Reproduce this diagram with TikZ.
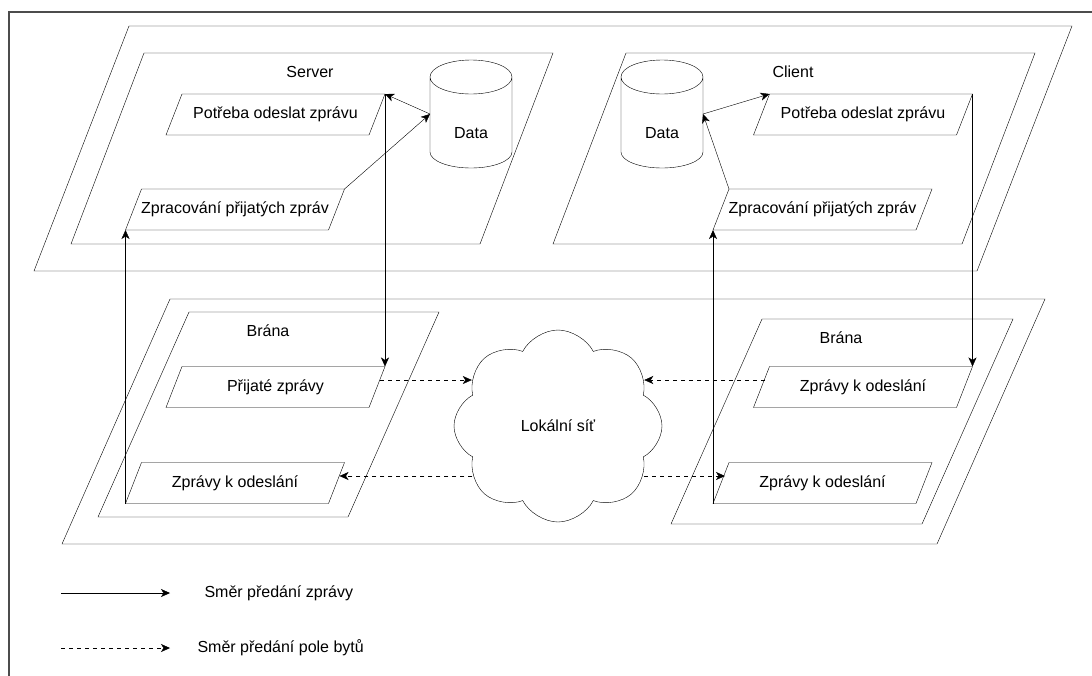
\documentclass[tikz,border=0pt]{standalone}
\usepackage{fontspec}
\setmainfont{Liberation Sans}
\usetikzlibrary{positioning, arrows.meta, shapes.symbols}

\begin{document}
\begin{tikzpicture}[
    x=1pt, y=-1pt,
    every node/.style={font=\fontsize{16}{19}\selectfont},
    para/.style={rectangle, inner sep=0pt, outer sep=0pt,
        append after command={\pgfextra{\draw ([xshift=#1]\tikzlastnode.north west) -- (\tikzlastnode.north east) -- ([xshift=-#1]\tikzlastnode.south east) -- (\tikzlastnode.south west) -- cycle;}}},
    box/.style={para=16pt, minimum width=219pt, minimum height=41pt},
    db/.style={rectangle, inner sep=0pt, outer sep=0pt, minimum width=82pt, minimum height=108pt, text height=48pt, text depth=0pt,
        append after command={\pgfextra{\draw ([yshift=-17pt]\tikzlastnode.north west) -- ([yshift=16pt]\tikzlastnode.south west) arc[start angle=180, end angle=360, x radius=41pt, y radius=16pt] -- ([yshift=-17pt]\tikzlastnode.north east) arc[start angle=0, end angle=180, x radius=41pt, y radius=17pt] arc[start angle=180, end angle=360, x radius=41pt, y radius=17pt];}}},
    cloudbox/.style={cloud, draw, cloud puffs=8, cloud puff arc=125, aspect=1.1, minimum width=208pt, minimum height=192pt, inner sep=0pt, outer sep=0pt},
    msg/.style={-{Stealth[length=9pt, width=8pt, inset=2.5pt]}},
    bytes/.style={msg, dash pattern=on 4pt off 4pt},
    frame/.style={draw=black!70, line width=1.6pt}
]

\useasboundingbox (0,0) rectangle (1092,675);

% outer frame (cut off at the page edge)
\draw[frame] (9,12) rectangle (1150,730);

% layers
\node[para=95pt, minimum width=1038pt, minimum height=245pt] (hostLayer) at (553,148.5) {};
\node[para=108pt, minimum width=983pt, minimum height=245pt] (netLayer) at (553.5,421.5) {};

% server and client
\node[para=73pt, minimum width=482pt, minimum height=191pt] (server) at (312,148.5) {};
\node[para=73pt, minimum width=482pt, minimum height=191pt] (client) at (794,148.5) {};
\node (serverLbl) at (310,72) {Server};
\node (clientLbl) at (793,72) {Client};

% gateways
\node[para=91pt, minimum width=341pt, minimum height=205pt] (gateL) at (268.5,414.5) {};
\node[para=91pt, minimum width=342pt, minimum height=205pt] (gateR) at (842,421.5) {};
\node (gateLLbl) at (268,331) {Brána};
\node (gateRLbl) at (841,338) {Brána};

% message boxes
\node[box] (potS) at (275.5,114.5) {Potřeba odeslat zprávu};
\node[box] (zprS) at (235,209.5) {Zpracování přijatých zpráv};
\node[box] (prijS) at (275.5,387) {Přijaté zprávy};
\node[box] (odesL) at (235,483) {Zprávy k odeslání};
\node[box] (potC) at (863,114.5) {Potřeba odeslat zprávu};
\node[box] (zprC) at (822.5,209.5) {Zpracování přijatých zpráv};
\node[box] (odesR) at (863,387) {Zprávy k odeslání};
\node[box] (odesR2) at (822.5,483) {Zprávy k odeslání};

% databases
\foreach \nm/\x in {dataS/471, dataC/662} {
    \node[db] (\nm) at (\x,114) {Data};
}

% network
\node[cloudbox] (lan) at (558,426) {Lokální síť};

% messages, server side
\draw[msg] (dataS.west) -- (potS.north east);
\draw[msg] (zprS.north east) -- (dataS.west);
\draw[msg] (potS.north east) -- (prijS.north east);
\draw[msg] (odesL.south west) -- (zprS.south west);

% messages, client side
\draw[msg] (dataC.east) -- ([xshift=16pt]potC.north west);
\draw[msg] ([xshift=16pt]zprC.north west) -- (dataC.east);
\draw[msg] (potC.north east) -- (odesR.north east);
\draw[msg] (odesR2.south west) -- (zprC.south west);

% byte arrays through the network
\draw[bytes] ([xshift=-5pt, yshift=7pt]prijS.east) -- ([yshift=7pt]prijS.east -| lan.154);
\draw[bytes] ([xshift=11pt, yshift=7pt]odesR.west) -- ([yshift=7pt]odesR.west -| lan.26);
\draw[bytes] ([yshift=7pt]odesL.east -| lan.209) -- ([xshift=-5pt, yshift=7pt]odesL.east);
\draw[bytes] ([yshift=7pt]odesR2.west -| lan.333) -- ([xshift=12pt, yshift=7pt]odesR2.west);

% legend
\coordinate (msgA) at (61,593);
\coordinate (msgB) at (170,593);
\coordinate (bytesA) at (61,648);
\coordinate (bytesB) at (170,648);
\draw[msg] (msgA) -- (msgB);
\draw[bytes] (bytesA) -- (bytesB);
\node[anchor=west] (msgLbl) at (201,593) {Směr předání zprávy};
\node[anchor=west] (bytesLbl) at (194,648) {Směr předání pole bytů};

\end{tikzpicture}
\end{document}
